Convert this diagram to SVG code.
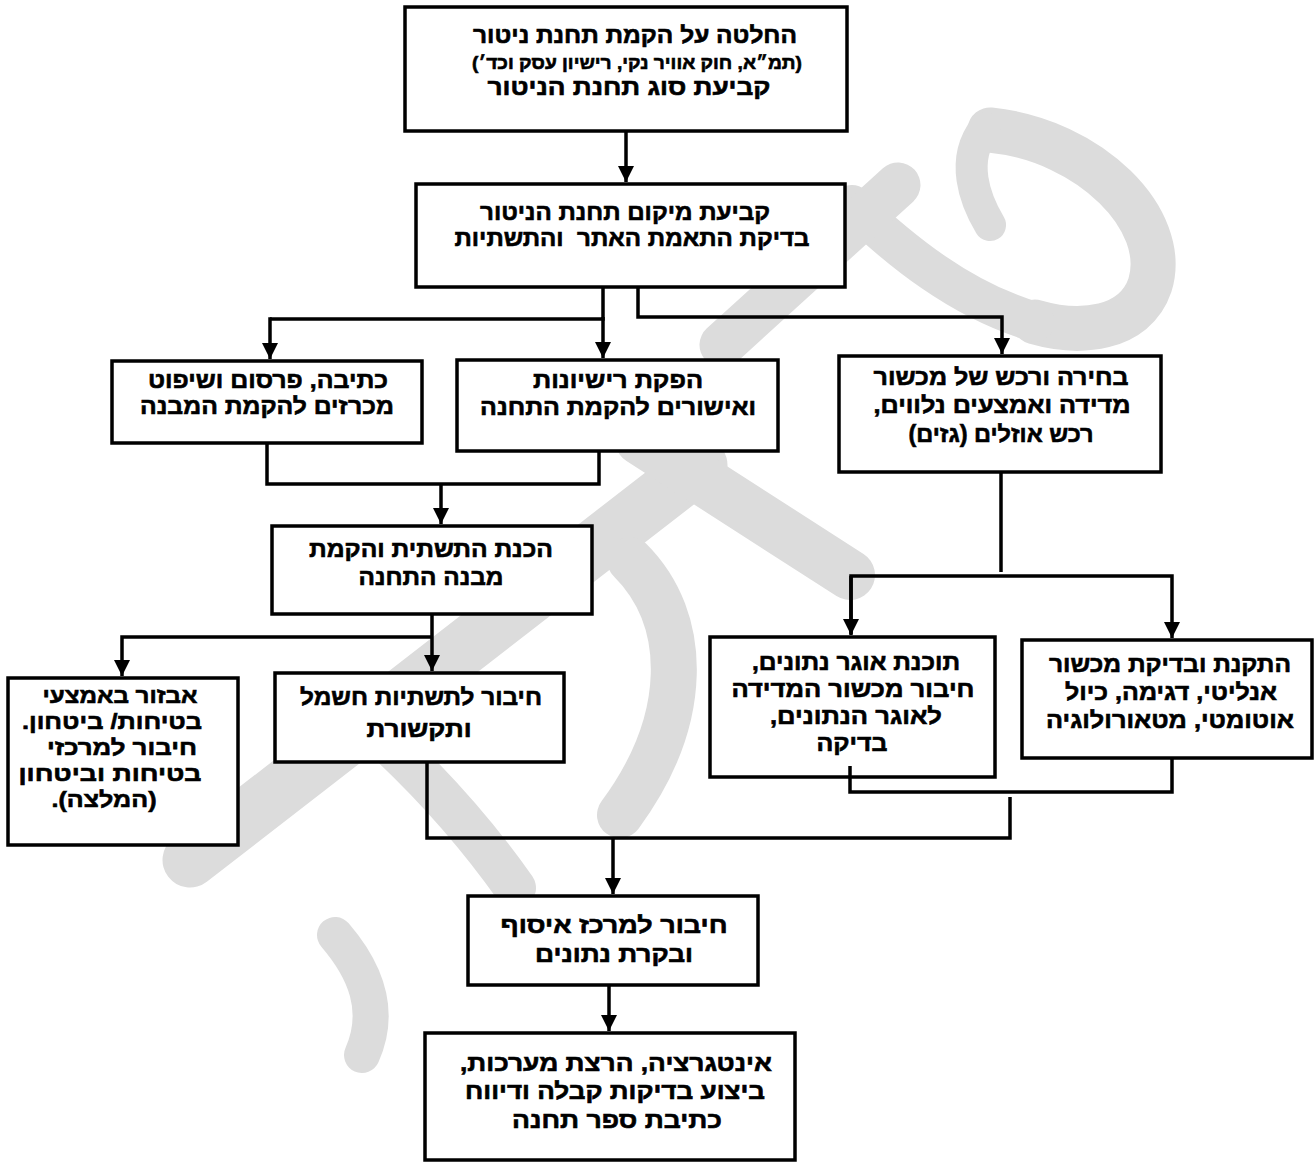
<svg xmlns="http://www.w3.org/2000/svg" width="1316" height="1162" viewBox="0 0 1316 1162">
<style>
.box{fill:#fff;stroke:#000;stroke-width:3.5}
.c{fill:none;stroke:#000;stroke-width:3.5}
.wm{fill:none;stroke:#dcdcdc;stroke-linecap:round;stroke-linejoin:round}
text{font-family:"Liberation Sans","DejaVu Sans",sans-serif;font-weight:bold;font-size:23px;text-anchor:middle;direction:rtl;unicode-bidi:embed;fill:#000;stroke:#000;stroke-width:0.6;white-space:pre}
.s{font-size:18px}
.m{font-size:22px}
</style>
<defs>
<marker id="ah" markerUnits="userSpaceOnUse" markerWidth="16" markerHeight="18" refX="16" refY="8" orient="auto">
<path d="M0,0 L16,8 L0,16 Z" fill="#000"/>
</marker>
</defs>
<rect width="1316" height="1162" fill="#fff"/>
<g id="watermark">
<path class="wm" stroke-width="55" d="M190,860 L700,465"/>
<path class="wm" stroke-width="50" d="M640,440 L850,575"/>
<path class="wm" stroke-width="45" d="M990,130 C1090,140 1170,220 1150,285 C1135,330 1080,335 1035,322"/>
<path class="wm" stroke-width="40" d="M852,205 C900,250 960,300 1035,322"/>
<path class="wm" stroke-width="32" d="M985,128 C960,160 975,200 990,225"/>
<path class="wm" stroke-width="45" d="M722,345 L898,185"/>
<path class="wm" stroke-width="42" d="M385,740 Q460,810 515,888"/>
<path class="wm" stroke-width="46" d="M630,560 C690,620 690,720 620,815"/>
<path class="wm" stroke-width="36" d="M335,935 C365,970 382,1010 362,1055"/>
</g>
<g id="n1"><rect class="box" x="405" y="7" width="442" height="124"/>
<text x="635" y="43" textLength="324" lengthAdjust="spacingAndGlyphs">החלטה על הקמת תחנת ניטור</text>
<text class="s" x="637" y="69" textLength="330" lengthAdjust="spacingAndGlyphs">(תמ״א, חוק אוויר נקי, רישיון עסק וכד׳)</text>
<text x="629" y="95" textLength="283" lengthAdjust="spacingAndGlyphs">קביעת סוג תחנת הניטור</text></g>
<g id="n2"><rect class="box" x="416" y="184" width="429" height="103"/>
<text x="625" y="220" textLength="290" lengthAdjust="spacingAndGlyphs">קביעת מיקום תחנת הניטור</text>
<text x="632" y="246" textLength="355" lengthAdjust="spacingAndGlyphs">בדיקת התאמת האתר  והתשתיות</text></g>
<g id="n3"><rect class="box" x="112" y="361" width="310" height="82"/>
<text x="268" y="388" textLength="240" lengthAdjust="spacingAndGlyphs">כתיבה, פרסום ושיפוט</text>
<text x="267" y="414" textLength="254" lengthAdjust="spacingAndGlyphs">מכרזים להקמת המבנה</text></g>
<g id="n4"><rect class="box" x="457" y="360" width="321" height="91"/>
<text x="618" y="388" textLength="170" lengthAdjust="spacingAndGlyphs">הפקת רישיונות</text>
<text x="618" y="415" textLength="276" lengthAdjust="spacingAndGlyphs">ואישורים להקמת התחנה</text></g>
<g id="n5"><rect class="box" x="839" y="356" width="322" height="116"/>
<text x="1001" y="385" textLength="255" lengthAdjust="spacingAndGlyphs">בחירה ורכש של מכשור</text>
<text x="1002" y="413" textLength="257" lengthAdjust="spacingAndGlyphs">מדידה ואמצעים נלווים,</text>
<text x="1001" y="442" textLength="185" lengthAdjust="spacingAndGlyphs">רכש אוזלים (גזים)</text></g>
<g id="n6"><rect class="box" x="272" y="526" width="320" height="88"/>
<text x="431" y="557" textLength="244" lengthAdjust="spacingAndGlyphs">הכנת התשתית והקמת</text>
<text x="431" y="585" textLength="145" lengthAdjust="spacingAndGlyphs">מבנה התחנה</text></g>
<g id="n7"><rect class="box" x="8" y="678" width="230" height="167"/>
<text class="m" x="120" y="703" textLength="155" lengthAdjust="spacingAndGlyphs">אבזור באמצעי</text>
<text class="m" x="112" y="729" textLength="180" lengthAdjust="spacingAndGlyphs">בטיחות/ ביטחון.</text>
<text class="m" x="122" y="755" textLength="150" lengthAdjust="spacingAndGlyphs">חיבור למרכזי</text>
<text class="m" x="110" y="781" textLength="183" lengthAdjust="spacingAndGlyphs">בטיחות וביטחון</text>
<text class="m" x="104" y="807" textLength="105" lengthAdjust="spacingAndGlyphs">(המלצה).</text></g>
<g id="n8"><rect class="box" x="275" y="673" width="289" height="89"/>
<text x="421" y="705" textLength="242" lengthAdjust="spacingAndGlyphs">חיבור לתשתיות חשמל</text>
<text x="419" y="737" textLength="105" lengthAdjust="spacingAndGlyphs">ותקשורת</text></g>
<g id="n9"><rect class="box" x="710" y="637" width="285" height="140"/>
<text x="856" y="670" textLength="208" lengthAdjust="spacingAndGlyphs">תוכנת אוגר נתונים,</text>
<text x="853" y="697" textLength="243" lengthAdjust="spacingAndGlyphs">חיבור מכשור המדידה</text>
<text x="856" y="724" textLength="172" lengthAdjust="spacingAndGlyphs">לאוגר הנתונים,</text>
<text x="852" y="751" textLength="71" lengthAdjust="spacingAndGlyphs">בדיקה</text></g>
<g id="n10"><rect class="box" x="1022" y="640" width="290" height="118"/>
<text x="1170" y="672" textLength="242" lengthAdjust="spacingAndGlyphs">התקנת ובדיקת מכשור</text>
<text x="1171" y="700" textLength="212" lengthAdjust="spacingAndGlyphs">אנליטי, דגימה, כיול</text>
<text x="1170" y="728" textLength="248" lengthAdjust="spacingAndGlyphs">אוטומטי, מטאורולוגיה</text></g>
<g id="n11"><rect class="box" x="468" y="896" width="290" height="89"/>
<text x="614" y="933" textLength="227" lengthAdjust="spacingAndGlyphs">חיבור למרכז איסוף</text>
<text x="614" y="962" textLength="158" lengthAdjust="spacingAndGlyphs">ובקרת נתונים</text></g>
<g id="n12"><rect class="box" x="425" y="1033" width="370" height="127"/>
<text x="616" y="1071" textLength="312" lengthAdjust="spacingAndGlyphs">אינטגרציה, הרצת מערכות,</text>
<text x="615" y="1099" textLength="300" lengthAdjust="spacingAndGlyphs">ביצוע בדיקות קבלה ודיווח</text>
<text x="617" y="1128" textLength="210" lengthAdjust="spacingAndGlyphs">כתיבת ספר תחנה</text></g>
<g id="connectors">
<path class="c" d="M626,131 V182" marker-end="url(#ah)"/>
<path class="c" d="M603,287 V319 H270"/>
<path class="c" d="M270,317.25 V359" marker-end="url(#ah)"/>
<path class="c" d="M603,317 V358" marker-end="url(#ah)"/>
<path class="c" d="M638,287 V317 H1002 V354" marker-end="url(#ah)"/>
<path class="c" d="M267,443 V484 H599 V451"/>
<path class="c" d="M441,484 V524" marker-end="url(#ah)"/>
<path class="c" d="M1001,472 V572"/>
<path class="c" d="M851,634 V576 H1172 V638" marker-end="url(#ah)"/>
<path class="c" d="M851,576 V635" marker-end="url(#ah)"/>
<path class="c" d="M432,614 V671" marker-end="url(#ah)"/>
<path class="c" d="M432,637 H122 V676" marker-end="url(#ah)"/>
<path class="c" d="M850,766 V792 H1172 V758"/>
<path class="c" d="M1010,797 V838 H427 V762"/>
<path class="c" d="M613,838 V894" marker-end="url(#ah)"/>
<path class="c" d="M609,985 V1031" marker-end="url(#ah)"/>
</g>
</svg>
